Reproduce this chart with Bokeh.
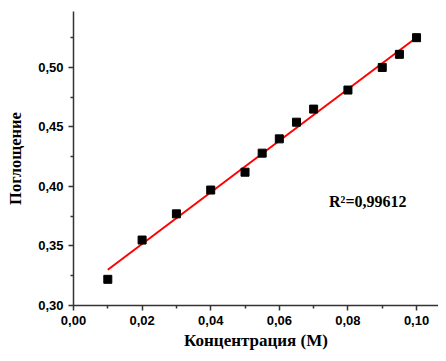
import numpy as np
from bokeh.plotting import figure
from bokeh.models import Range1d, FixedTicker, CustomJSTickFormatter, Label
from bokeh.embed import file_html
from bokeh.resources import INLINE

conc = [0.01, 0.02, 0.03, 0.04, 0.05, 0.055, 0.06, 0.065, 0.07, 0.08, 0.09, 0.095, 0.10]
absorb = [0.322, 0.355, 0.377, 0.397, 0.412, 0.428, 0.440, 0.454, 0.465, 0.481, 0.500, 0.511, 0.525]
x_ticks = [0.00, 0.02, 0.04, 0.06, 0.08, 0.10]
y_ticks = [0.30, 0.35, 0.40, 0.45, 0.50]
x_minor = [0.01, 0.03, 0.05, 0.07, 0.09]
y_minor = [0.325, 0.375, 0.425, 0.475, 0.525]
r2_text = "R\u00b2=0,99612"

p = figure(width=438, height=353, output_backend="svg", toolbar_location=None,
           x_range=Range1d(0.0, 0.1064), y_range=Range1d(0.30, 0.547),
           min_border_left=73, min_border_top=11, min_border_right=0, min_border_bottom=48)
p.outline_line_color = None
p.xgrid.visible = False
p.ygrid.visible = False

fmt = CustomJSTickFormatter(code="return tick.toFixed(2).replace('.', ',');")
for ax, ticks, minor in ((p.xaxis[0], x_ticks, x_minor), (p.yaxis[0], y_ticks, y_minor)):
    ax.ticker = FixedTicker(ticks=ticks, minor_ticks=minor)
    ax.formatter = fmt
    ax.axis_line_width = 1.5
    ax.axis_line_color = "#333333"
    ax.major_tick_line_color = "#333333"
    ax.minor_tick_line_color = "#333333"
    ax.major_tick_line_width = 1.5
    ax.minor_tick_line_width = 1.5
    ax.major_tick_out = 5
    ax.major_tick_in = 0
    ax.minor_tick_out = 3
    ax.minor_tick_in = 0
    ax.major_label_text_font = "Liberation Sans"
    ax.major_label_text_font_style = "bold"
    ax.major_label_text_font_size = "13px"
    ax.major_label_text_color = "black"
    ax.axis_label_text_font = "Liberation Serif"
    ax.axis_label_text_font_style = "bold"
    ax.axis_label_text_color = "black"

p.xaxis.axis_label = "Концентрация (М)"
p.yaxis.axis_label = "Поглощение"
p.xaxis.axis_label_text_font_size = "17px"
p.yaxis.axis_label_text_font_size = "16.5px"
p.xaxis.axis_label_standoff = 3
p.yaxis.axis_label_standoff = 10
p.xaxis.major_label_standoff = 5
p.yaxis.major_label_standoff = 5

slope, intercept = np.polyfit(conc, absorb, 1)
xf = np.array([min(conc), max(conc)])
p.line(xf, slope * xf + intercept, line_color="red", line_width=2)
p.scatter(conc, absorb, marker="square", size=8, color="black")

p.add_layout(Label(x=0.0745, y=0.380, text=r2_text, text_font="Liberation Serif",
                   text_font_style="bold", text_font_size="16px", text_color="black"))

open("out.html", "w").write(file_html(p, INLINE))
